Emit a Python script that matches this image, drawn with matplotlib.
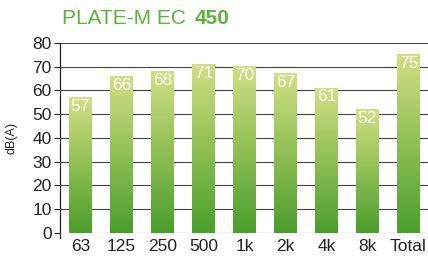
import numpy as np
import matplotlib
matplotlib.use("Agg")
import matplotlib.pyplot as plt
from matplotlib.colors import LinearSegmentedColormap

# data
bands = ["63", "125", "250", "500", "1k", "2k", "4k", "8k", "Total"]
levels = [57, 66, 68, 71, 70, 67, 61, 52, 75]

plt.rcParams['font.family'] = ['Liberation Sans', 'DejaVu Sans']

fig = plt.figure(figsize=(4.28, 2.6), dpi=100)
ax = fig.add_axes([0.140, 0.104, 0.862, 0.731])

grad = LinearSegmentedColormap.from_list("g", ["#4a9e2c", "#8fbf55", "#d2df84"])
col = np.linspace(0, 1, 256).reshape(-1, 1)

w = 0.54
x = np.arange(len(bands))
for xi, v in zip(x, levels):
    ax.imshow(col, cmap=grad, origin="lower", aspect="auto",
              extent=[xi - w / 2, xi + w / 2, 0, v], zorder=2)
    ax.text(xi, v - 0.6, str(v), color="white", fontsize=12.5,
            ha="center", va="top", zorder=3)

ax.set_xlim(-0.5, len(bands) - 0.5)
ax.set_ylim(0, 80)
ax.set_yticks(range(0, 81, 10))
ax.set_xticks(x)
ax.set_xticklabels(bands)
ax.tick_params(axis="y", length=4, width=0.8, labelsize=12.5, pad=2, colors="#222")
ax.tick_params(axis="x", length=0, labelsize=12.5, pad=4, colors="#222")
ax.grid(axis="y", color="#444", lw=0.8, zorder=0)
ax.set_axisbelow(True)
for s in ["top", "right", "bottom"]:
    ax.spines[s].set_visible(False)
ax.spines["left"].set_color("#222")
ax.spines["left"].set_linewidth(0.9)
ax.spines["left"].set_bounds(-2, 80)
ax.spines["left"].set_clip_on(False)
ax.set_ylabel("dB(A)", fontsize=9, color="#222")
ax.yaxis.set_label_coords(-0.115, 0.5)

fig.text(0.145, 0.93, "PLATE-M EC", color="#5ab43c", fontsize=15, va="center")
fig.text(0.455, 0.93, "450", color="#5ab43c", fontsize=15, fontweight="bold", va="center")

fig.savefig("out.png", dpi=100)
